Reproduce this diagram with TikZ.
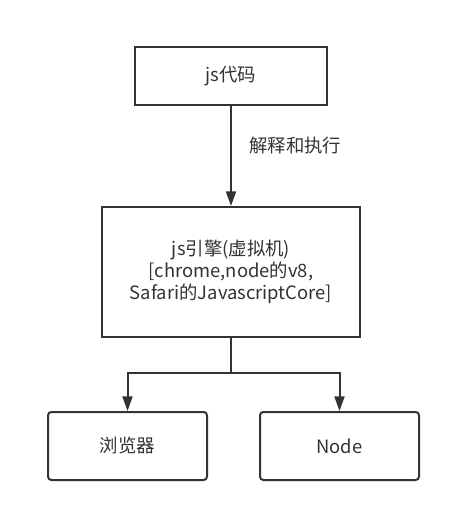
\documentclass[tikz,border=0pt]{standalone}
\usepackage{fontspec}
\setmainfont{Noto Sans CJK SC}
\usetikzlibrary{arrows.meta}
\definecolor{ink}{HTML}{333333}
\tikzset{
  box/.style={draw=ink, line width=1.5pt, text=ink, inner sep=0pt, align=center,
    font=\fontsize{13.8pt}{16.5pt}\selectfont},
  rbox/.style={box, rounded corners=2.5pt},
  arr/.style={draw=ink, line width=1.5pt, -{Triangle[length=11pt,width=7.5pt]}},
  lab/.style={text=ink, inner sep=0pt, anchor=west, font=\fontsize{13.8pt}{16.5pt}\selectfont}
}
\begin{document}
\begin{tikzpicture}[x=0.75pt,y=-0.75pt]
\useasboundingbox[fill=white] (0,0) rectangle (451,512);
\node[box, minimum width=144pt, minimum height=43.5pt] (code) at (231,76) {js代码};
\node[box, minimum width=193.5pt, minimum height=97.5pt] (engine) at (231,272)
  {js引擎(虚拟机)\\{[}chrome,node的v8,\\Safari的JavascriptCore{]}};
\node[rbox, minimum width=119.25pt, minimum height=51pt] (browser) at (127.5,446) {浏览器};
\node[rbox, minimum width=119.25pt, minimum height=51pt] (nodejs) at (339.5,446) {Node};
\node[lab] (interp) at (249,146) {解释和执行};
\coordinate (j) at (231,373);
\draw[arr] (code) -- (engine);
\draw[arr] (engine.south) -- (j) -| (browser.north);
\draw[arr] (j) -| (nodejs.north);
\end{tikzpicture}
\end{document}
